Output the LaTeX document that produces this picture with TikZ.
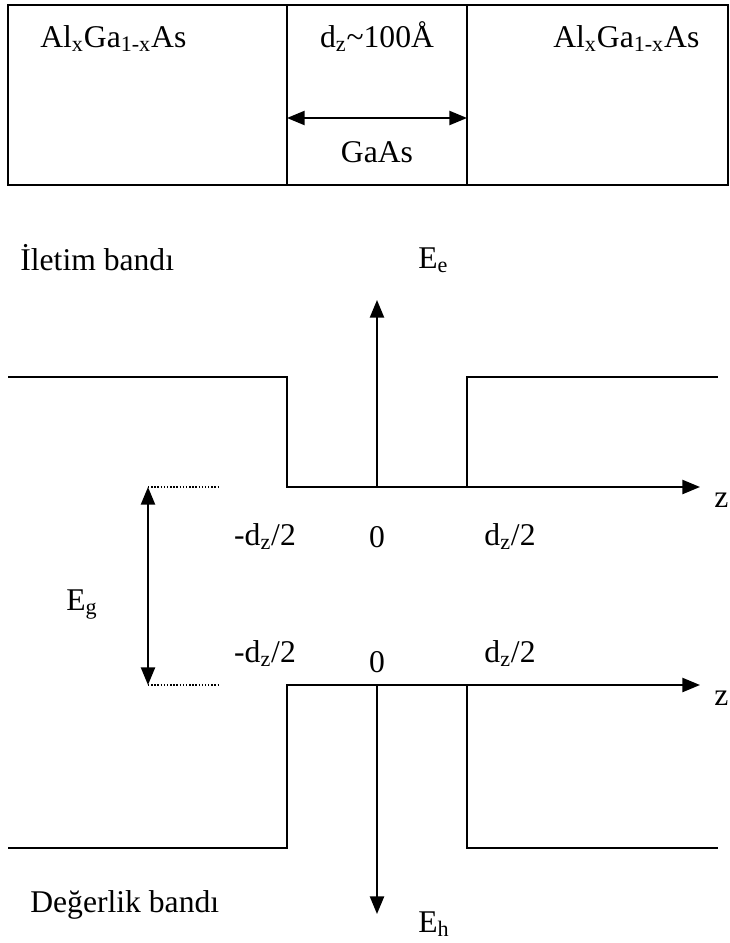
\documentclass[tikz,border=0pt]{standalone}
\usepackage{fontspec}
\setmainfont{Liberation Serif}
\usetikzlibrary{positioning, arrows.meta, calc}

\begin{document}
\begin{tikzpicture}[x=0.02cm, y=-0.02cm,
  lbl/.style={inner sep=0pt, font=\fontsize{18}{21}\selectfont},
  band/.style={line width=1.1pt},
  axis/.style={line width=1.1pt, -{Triangle[length=10pt, width=8pt]}},
  gap/.style={densely dotted, line width=0.8pt}]
\useasboundingbox (0,0) rectangle (730,943);

% layer structure
\draw[band] (8,5) rectangle (728,185);
\draw[band] (287,5) -- (287,185);
\draw[band] (467,5) -- (467,185);
\node[lbl, anchor=base west] (alleft) at (40,47) {Al\textsubscript{x}Ga\textsubscript{1-x}As};
\node[lbl, anchor=base] (width) at (377,47) {d\textsubscript{z}\textasciitilde100Å};
\node[lbl, anchor=base west] (alright) at (553,47) {Al\textsubscript{x}Ga\textsubscript{1-x}As};
\coordinate (wl) at (287,118);
\coordinate (wr) at (467,118);
\draw[band, {Triangle[length=10pt, width=8pt]}-{Triangle[length=10pt, width=8pt]}] (wl) -- (wr);
\node[lbl, anchor=base] (gaas) at (377,162) {GaAs};

% conduction band
\node[lbl, anchor=base west] (iletim) at (20,270) {İletim bandı};
\draw[band] (8,377) -- (287,377) -- (287,487) -- (467,487) -- (467,377) -- (718,377);
\coordinate (c0) at (377,487);
\coordinate (ctop) at (377,300);
\coordinate (cz) at (700,487);
\draw[axis] (c0) -- (ctop);
\draw[axis] (467,487) -- (cz);
\node[lbl, anchor=base west] (ee) at (418,268) {E\textsubscript{e}};
\node[lbl, anchor=base west] (zc) at (714,507) {z};
\node[lbl, anchor=base] (cml) at (265,545) {-d\textsubscript{z}/2};
\node[lbl, anchor=base] (c0l) at (377,547) {0};
\node[lbl, anchor=base] (cpl) at (510,545) {d\textsubscript{z}/2};

% band gap
\coordinate (gtop) at (148,487);
\coordinate (gbot) at (148,685);
\draw[gap] (gtop) -- (218,487);
\draw[gap] (gbot) -- (218,685);
\draw[band, {Triangle[length=10pt, width=8pt]}-{Triangle[length=10pt, width=8pt]}] (gtop) -- (gbot);
\node[lbl, anchor=base west] (eg) at (66,610) {E\textsubscript{g}};

% valence band
\node[lbl, anchor=base] (vml) at (265,662) {-d\textsubscript{z}/2};
\node[lbl, anchor=base] (v0l) at (377,672) {0};
\node[lbl, anchor=base] (vpl) at (510,662) {d\textsubscript{z}/2};
\draw[band] (8,848) -- (287,848) -- (287,685) -- (467,685) -- (467,848) -- (718,848);
\coordinate (v0) at (377,685);
\coordinate (vbot) at (377,914);
\coordinate (vz) at (700,685);
\draw[axis] (v0) -- (vbot);
\draw[axis] (467,685) -- (vz);
\node[lbl, anchor=base west] (zv) at (714,705) {z};
\node[lbl, anchor=base west] (eh) at (418,932) {E\textsubscript{h}};
\node[lbl, anchor=base west] (degerlik) at (30,912) {Değerlik bandı};
\end{tikzpicture}
\end{document}
